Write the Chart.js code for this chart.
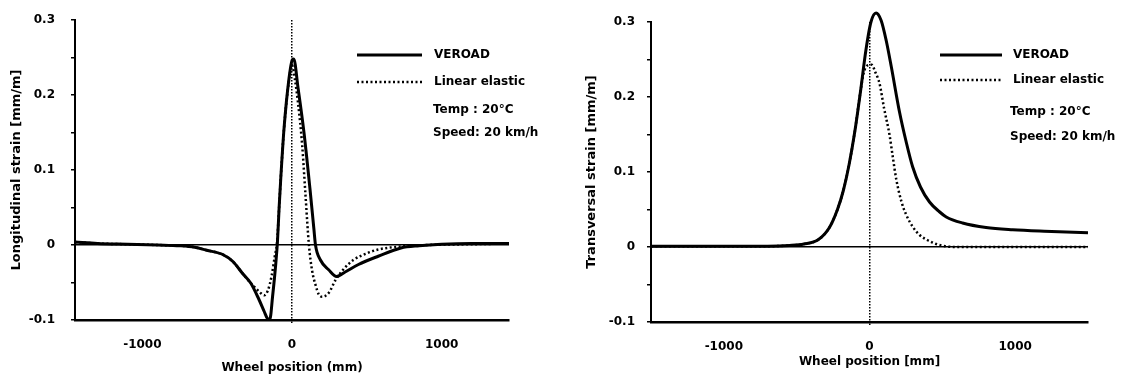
<!DOCTYPE html>
<html lang="en">
<head>
  <meta charset="UTF-8" />
  <title>Strain under a moving wheel - VEROAD vs linear elastic</title>
  <script src="https://cdn.jsdelivr.net/npm/chart.js"></script>
  <style>
    body { margin: 0; background: #fff; }
    .panel { position: absolute; top: 0; height: 379px; }
  </style>
</head>
<body>

<div class="panel" style="left:0;width:560px"><canvas id="longChart" width="560" height="379"></canvas></div>
<div class="panel" style="left:560px;width:569px"><canvas id="transChart" width="569" height="379"></canvas></div>

<script>
  // wheel position in mm, strain in mm/m

  // longitudinal strain
  const longVeroadX = [-1450, -1300, -1100, -900, -750, -650, -570, -460, -395, -330, -275, -220, -185, -164, -148, -130, -108, -97, -86, -75, -53, -20, 2, 12, 40, 80, 120, 146, 157, 190, 245, 298, 355, 444, 576, 728, 850, 1000, 1200, 1450];
  const longVeroadY = [0.004, 0.002, 0.001, 0, -0.001, -0.003, -0.007, -0.013, -0.022, -0.038, -0.051, -0.073, -0.089, -0.098, -0.099, -0.069, -0.024, 0.005, 0.05, 0.089, 0.156, 0.222, 0.247, 0.248, 0.21, 0.15, 0.075, 0.022, 0, -0.02, -0.033, -0.042, -0.036, -0.026, -0.015, -0.004, -0.001, 0.001, 0.002, 0.002];

  const longLinearX = [-1450, -1300, -1100, -900, -750, -650, -570, -460, -395, -330, -275, -240, -210, -185, -160, -135, -115, -100, -86, -75, -53, -20, 0, 20, 40, 68, 90, 113, 135, 157, 179, 201, 245, 290, 350, 410, 500, 576, 728, 900, 1200, 1450];
  const longLinearY = [0.004, 0.002, 0.001, 0, -0.001, -0.003, -0.007, -0.013, -0.022, -0.038, -0.051, -0.058, -0.064, -0.067, -0.06, -0.04, -0.015, 0.003, 0.05, 0.089, 0.156, 0.22, 0.24, 0.22, 0.19, 0.133, 0.067, 0, -0.035, -0.053, -0.066, -0.069, -0.064, -0.047, -0.031, -0.02, -0.011, -0.006, -0.002, 0, 0.001, 0.002];

  // transversal strain
  const transVeroadX = [-1500, -1200, -900, -700, -550, -450, -350, -275, -220, -180, -140, -100, -60, -25, 10, 45, 80, 115, 150, 206, 252, 296, 350, 412, 480, 527, 639, 800, 983, 1200, 1500];
  const transVeroadY = [0.001, 0.001, 0.001, 0.001, 0.002, 0.004, 0.01, 0.026, 0.05, 0.075, 0.11, 0.155, 0.21, 0.262, 0.3, 0.312, 0.302, 0.275, 0.24, 0.18, 0.14, 0.107, 0.08, 0.06, 0.047, 0.04, 0.032, 0.026, 0.023, 0.021, 0.019];

  const transLinearX = [-1500, -1200, -900, -700, -550, -450, -350, -275, -220, -180, -140, -100, -60, -40, -15, 15, 40, 69, 100, 137, 160, 184, 220, 252, 300, 344, 400, 458, 520, 600, 800, 1100, 1500];
  const transLinearY = [0.001, 0.001, 0.001, 0.001, 0.002, 0.004, 0.01, 0.026, 0.05, 0.075, 0.11, 0.155, 0.21, 0.232, 0.242, 0.243, 0.233, 0.218, 0.185, 0.15, 0.12, 0.09, 0.06, 0.043, 0.026, 0.016, 0.009, 0.004, 0.001, 0, 0, 0, 0];

  const seriesNames = ['VEROAD', 'Linear elastic'];
  const testNotes = ['Temp : 20°C', 'Speed: 20 km/h'];
  const xTicks = [-1000, 0, 1000];
  const yTicks = [-0.1, -0.05, 0, 0.05, 0.1, 0.15, 0.2, 0.25, 0.3];

  const tickFont = { family: 'DejaVu Sans', weight: 'bold', size: 12 };
  const xTitleFont = { family: 'DejaVu Sans', weight: 'bold', size: 12 };
  const yTitleFont = { family: 'DejaVu Sans', weight: 'bold', size: 13 };
  const dotted = [2, 2.5];

  const pairs = (xs, ys) => xs.map((x, i) => ({ x: x, y: ys[i] }));
  const isZero = v => Math.abs(v) < 1e-9;

  // legend lines + test conditions written inside the plot
  const noteBox = {
    id: 'noteBox',
    afterDraw(chart, args, opts) {
      const ctx = chart.ctx;
      ctx.save();
      ctx.fillStyle = '#000';
      ctx.strokeStyle = '#000';
      ctx.font = 'bold 12px "DejaVu Sans"';
      ctx.textBaseline = 'middle';
      chart.data.datasets.forEach((ds, i) => {
        const y = opts.rows[i];
        ctx.lineWidth = ds.borderWidth;
        ctx.setLineDash(ds.borderDash || []);
        ctx.beginPath();
        ctx.moveTo(opts.lineFrom, y);
        ctx.lineTo(opts.lineTo, y);
        ctx.stroke();
        ctx.fillText(ds.label, opts.textX, y);
      });
      testNotes.forEach((t, i) => ctx.fillText(t, opts.noteX, opts.rows[2 + i]));
      ctx.restore();
    }
  };

  function strainChart(canvasId, cfg) {
    return new Chart(document.getElementById(canvasId), {
      type: 'line',
      data: {
        datasets: [{
          label: seriesNames[0],
          data: pairs(cfg.veroadX, cfg.veroadY),
          borderColor: '#000',
          borderWidth: 3,
          pointRadius: 0,
          clip: false,
          cubicInterpolationMode: 'monotone'
        }, {
          label: seriesNames[1],
          data: pairs(cfg.linearX, cfg.linearY),
          borderColor: '#000',
          borderWidth: 2.5,
          borderDash: dotted,
          pointRadius: 0,
          clip: false,
          cubicInterpolationMode: 'monotone'
        }]
      },
      options: {
        responsive: false,
        animation: false,
        layout: { padding: cfg.padding },
        plugins: {
          legend: { display: false },
          tooltip: { enabled: false },
          noteBox: cfg.notes
        },
        scales: {
          x: {
            type: 'linear',
            min: -cfg.xLimit,
            max: cfg.xLimit,
            afterBuildTicks: s => { s.ticks = xTicks.map(v => ({ value: v })); },
            afterFit: s => { s.height = cfg.xAxisHeight; s.paddingLeft = 0; s.paddingRight = 0; },
            grid: {
              color: c => c.tick && isZero(c.tick.value) ? '#000' : 'transparent',
              lineWidth: 1.5,
              tickLength: 3
            },
            border: { color: '#000', width: 2.5, dash: [1.5, 1.5] },
            ticks: { color: '#000', font: tickFont, padding: 15, maxRotation: 0, callback: v => String(v) },
            title: {
              display: true, text: cfg.xTitle, color: '#000', font: xTitleFont,
              padding: { top: 0, bottom: cfg.xTitlePad }
            }
          },
          y: {
            min: -0.1,
            max: 0.3,
            afterBuildTicks: s => { s.ticks = yTicks.map(v => ({ value: v })); },
            afterFit: s => { s.width = cfg.yAxisWidth; s.paddingTop = 0; s.paddingBottom = 0; },
            grid: {
              color: c => c.tick && isZero(c.tick.value) ? '#000' : 'transparent',
              tickColor: '#000',
              lineWidth: 1.5,
              tickLength: 4
            },
            border: { color: '#000', width: 2 },
            ticks: {
              color: '#000', font: tickFont, padding: cfg.yTickPad,
              callback: v => {
                const r = Math.round(v * 100);
                return r % 10 === 0 ? String(r / 100) : '';
              }
            },
            title: {
              display: true, text: cfg.yTitle, color: '#000', font: yTitleFont,
              padding: { top: cfg.yTitlePad, bottom: 0 }
            }
          }
        }
      },
      plugins: [noteBox]
    });
  }

  strainChart('longChart', {
    veroadX: longVeroadX, veroadY: longVeroadY,
    linearX: longLinearX, linearY: longLinearY,
    xLimit: 1450,
    padding: { left: 0, top: 20, right: 51, bottom: 0 },
    xAxisHeight: 59, yAxisWidth: 75,
    yTickPad: 16, xTitlePad: 4, yTitlePad: 9,
    xTitle: 'Wheel position (mm)',
    yTitle: 'Longitudinal strain [mm/m]',
    notes: { lineFrom: 357, lineTo: 422, textX: 434, noteX: 433, rows: [55, 82, 110, 133] }
  });

  strainChart('transChart', {
    veroadX: transVeroadX, veroadY: transVeroadY,
    linearX: transLinearX, linearY: transLinearY,
    xLimit: 1500,
    padding: { left: 0, top: 22, right: 41, bottom: 0 },
    xAxisHeight: 57, yAxisWidth: 91,
    yTickPad: 12, xTitlePad: 10, yTitlePad: 24,
    xTitle: 'Wheel position [mm]',
    yTitle: 'Transversal strain [mm/m]',
    notes: { lineFrom: 380, lineTo: 442, textX: 453, noteX: 450, rows: [55, 80, 112, 137] }
  });
</script>

</body>
</html>
